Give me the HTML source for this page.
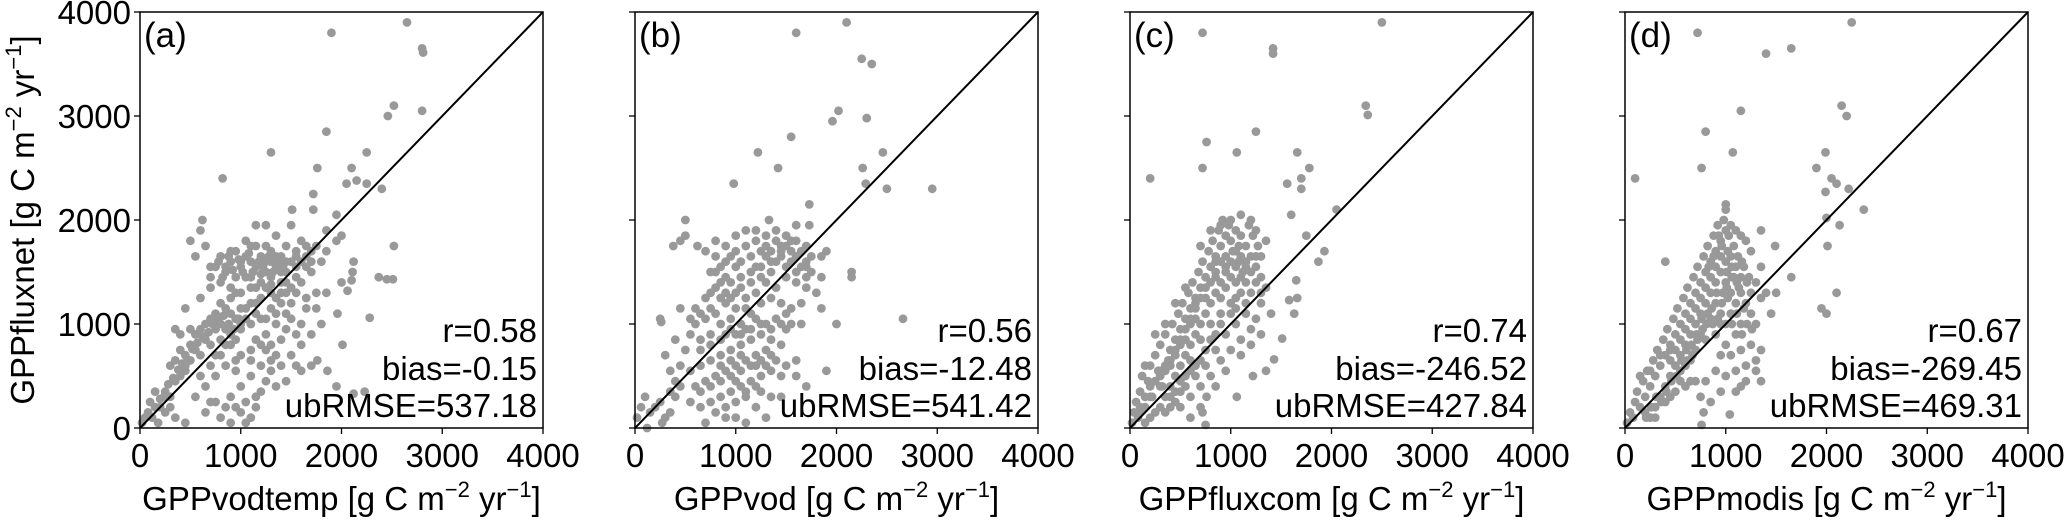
<!DOCTYPE html>
<html><head><meta charset="utf-8"><style>
html,body{margin:0;padding:0;background:#fff;}
svg{display:block;}
text{font-family:"Liberation Sans",sans-serif;fill:#000;}
</style></head><body>
<svg id="fig" width="2067" height="520" viewBox="0 0 2067 520" xmlns="http://www.w3.org/2000/svg"></svg>
<script>
const panelLetters = ["(a)","(b)","(c)","(d)"];
const xLabels = ["GPPvodtemp","GPPvod","GPPfluxcom","GPPmodis"];
const statR = ["0.58","0.56","0.74","0.67"];
const statBias = ["-0.15","-12.48","-246.52","-269.45"];
const statUb = ["537.18","541.42","427.84","469.31"];
const ticks = [0,1000,2000,3000,4000];
const ptsA = [[1900,3800],[2650,3900],[2800,3650],[2810,3610],[2800,3050],[2520,3100],[2460,3000],[1850,2850],[1300,2650],[2250,2650],[820,2400],[1760,2500],[2100,2500],[1720,2250],[2050,2350],[2150,2380],[2250,2350],[2400,2300],[1510,2100],[1720,2100],[1950,2050],[2520,1750],[2370,1450],[2450,1430],[2510,1430],[2120,1600],[2110,1500],[2100,1420],[2000,1400],[2060,1320],[1850,1300],[1960,1100],[2280,1060],[2010,800],[1760,650],[1860,550],[1950,400],[2230,350],[2120,330],
[20,50],[50,100],[80,150],[100,250],[150,200],[120,100],[200,280],[250,350],[180,50],[300,300],[350,450],[400,500],[450,550],[300,600],[350,650],[400,750],[450,700],[500,800],[550,900],[600,950],[650,1000],[700,1050],[750,1100],[800,1000],[850,950],[900,1100],[500,650],[600,700],[700,800],[800,850],[900,900],[1000,950],[550,1650],[620,2000],[600,1900],[500,1800],[650,1750],[800,1650],[900,1600],[1000,1550],[1100,1600],[1200,1650],[1300,1700],[1400,1650],[1500,1600],[1450,1750],[1350,1850],[1250,1950],[1150,1950],[1500,1950],[1600,1800],[1700,1700],[1650,1550],[1550,1450],[1400,1400],[1300,1300],[1200,1250],[1100,1200],[1000,1300],[900,1350],[800,1400],[700,1450],[750,1550],[850,1500],[950,1700],[1050,1800],[1150,1750],[1250,1500],[1350,1550],[1450,1500],[1550,1300],[1650,1250],[1750,1150],[1800,1000],[1700,900],[1600,800],[1500,700],[1400,600],[1300,550],[1200,600],[1100,650],[1000,700],[1100,500],[1000,400],[900,300],[850,200],[800,100],[900,50],[1000,150],[1050,250],[1150,300],[1200,350],[1100,100],[1050,50],[750,250],[650,150],[550,300],[450,50],[350,100],[1400,850],[1450,950],[1500,1050],[1350,1000],[1250,900],[1150,850],[1200,1050],[1300,1150],[1400,1200],[1500,1350],[1600,1400],[1700,1500],[1800,1600],[1850,1700],[1950,1800],[2000,1850],[1850,1900],[1750,1750],[1650,1650],[1550,1550],[1100,1450],[1000,1150],[900,800],[800,700],[700,600],[600,500],[650,400],[750,500],[850,600],[950,550],[1250,750],[1300,800],[1350,700],[1450,450],[1550,600],[1600,550],[1700,600],[400,900],[350,950],[500,950],[450,1150],[700,1350],[600,1250],[800,1200],[1000,1000],[1100,1000],
[850,1550],[950,1450],[1050,1650],[1150,1550],[1250,1600],[1350,1650],[1450,1600],[1250,1750],[1100,1750],[900,1250],[850,1150],[950,1050],[750,950],[650,850],[550,750],[450,600],[1200,1400],[1300,1450],[1400,1500],[1550,1700],[1300,1600],[1000,1600],[900,1700],[1050,1450],[1150,1350],[950,1300],[1250,1350],[1350,1250],[1450,1300],[1150,1100],[1050,1050],[950,850],[850,800],[750,700],[1200,800],[1100,750],[1300,650],[1350,400],[1250,450],[950,650],[250,150],[150,350],[300,200],[1600,1000],[1650,1150],[1550,900],[1450,1100],[1750,1300],[700,250],[950,200],[1150,200],
[700,1550],[780,1600],[880,1650],[980,1620],[1080,1680],[1180,1600],[1280,1650],[1380,1600],[1420,1550],[1320,1500],[1220,1550],[1120,1500],[1020,1500],[920,1520],[820,1450],[720,1000],[780,1050],[830,1080],[880,1000],[930,950],[980,1050],[680,920],[620,880],[570,820],[520,760],[470,650],[420,620],[380,560],[330,480],[280,420],[240,300],[200,200],[1100,1350],[1200,1480],[1300,1380],[1400,1300],[1500,1200],[1600,1600],[1700,1600],[1550,1650],[1650,1750],[1050,1150],[1150,1200],[1250,1050],[1350,1100],[1450,1400]];
const ptsB = [[2100,3900],[1600,3800],[2250,3550],[2350,3500],[2020,3050],[1960,2950],[2300,2980],[1550,2800],[1220,2650],[2460,2650],[1420,2500],[2260,2500],[980,2350],[2290,2350],[2500,2300],[2950,2300],[1730,2150],[1330,2000],[1730,1950],[500,2000],[2150,1500],[2150,1450],[2660,1050],[1850,1150],[2000,1000],[1900,550],
[20,100],[60,200],[100,300],[150,150],[120,0],[250,250],[300,100],[350,350],[270,50],[400,450],[450,600],[300,700],[250,1050],[260,1020],[400,850],[500,750],[550,900],[600,1000],[450,1150],[380,1750],[450,1800],[500,1850],[620,1750],[700,1700],[800,1650],[900,1600],[1000,1700],[1100,1750],[1200,1800],[1300,1750],[1400,1800],[1500,1750],[1600,1800],[1700,1750],[1500,1850],[1400,1900],[1600,1950],[1200,1900],[1100,1900],[1000,1550],[900,1450],[800,1350],[700,1250],[600,1150],[750,1500],[850,1550],[950,1400],[1050,1450],[1150,1500],[1250,1550],[1350,1600],[1450,1650],[1550,1600],[1650,1550],[1750,1500],[1850,1450],[1800,1300],[1700,1350],[1600,1400],[1500,1450],[1400,1350],[1300,1400],[1200,1300],[1100,1250],[1000,1300],[900,1200],[800,1100],[700,1050],[650,850],[750,900],[850,1000],[950,1050],[1050,1000],[1150,1100],[1250,1200],[1350,1250],[1450,1200],[1550,1150],[1650,1200],[1200,1050],[1300,1000],[1400,1050],[1500,950],[1450,800],[1350,850],[1250,900],[1150,850],[1050,800],[950,750],[850,700],[750,650],[650,600],[550,550],[600,400],[700,450],[800,500],[900,550],[1000,600],[1100,650],[1200,700],[1300,750],[1400,650],[1500,600],[1600,650],[1450,500],[1350,550],[1250,500],[1150,450],[1050,400],[950,350],[850,300],[750,250],[650,200],[700,50],[800,150],[900,200],[1000,250],[1100,300],[1200,200],[1300,100],[1100,50],[1000,100],[900,100],[1250,350],[1350,300],[1600,500],[1700,400],[1450,300],
[800,1800],[900,1750],[1000,1850],[1300,1850],[1450,1700],[1550,1700],[1650,1700],[1750,1650],[1850,1650],[1700,1600],[1900,1700],[1600,1500],[1700,1450],[1150,1650],[1250,1700],[1050,1600],[950,1650],[850,1250],[750,1150],[650,1100],[550,1050],[1100,1150],[1000,1150],[900,900],[1000,900],[1100,950],[1200,600],[1300,600],[1050,700],[950,500],[850,450],[750,400],[650,350],[550,250],[350,550],[450,400],[1450,1000],[1550,1000],[1500,1100],[1650,1000],
[1350,1700],[1450,1750],[1550,1800],[1400,1600],[1300,1650],[1350,1500],[1250,1450],[1150,1400],[1050,1350],[950,1250],[850,1400],[750,1300],[800,1500],[900,1300],[1200,1550],[1500,1550],[1600,1650],[1700,1550],[1250,1000],[1350,950],[1150,950],[1050,900],[950,950],[850,850],[750,800],[650,750],[1000,450],[1100,350],[1200,400],[850,600],[950,650],[1050,550],[1150,600],[1250,650],[1350,700],[200,200],[350,150],[400,300]];
const ptsC = [[2500,3900],[720,3800],[1420,3650],[1420,3600],[2340,3100],[2360,3010],[1250,2850],[760,2750],[1060,2650],[1660,2650],[720,2500],[1780,2500],[200,2400],[1560,2350],[1700,2300],[1700,2400],[2050,2100],[1600,2050],[1750,1850],[1930,1700],[1870,1600],[1650,1420],[1660,1250],[1580,1230],[1630,1100],[1510,860],[1430,660],[1350,550],[1220,500],[1060,300],[760,300],[720,150],[750,30],
[20,50],[40,150],[60,250],[80,100],[100,350],[120,500],[150,200],[180,450],[200,600],[220,300],[250,700],[280,550],[300,800],[320,400],[350,900],[380,650],[400,750],[420,1000],[450,850],[480,1100],[500,950],[520,1200],[550,1050],[580,1300],[600,1150],[620,1400],[650,1250],[680,1500],[700,1350],[720,1600],[750,1450],[780,1700],[800,1550],[820,1800],[850,1650],[880,1900],[900,1750],[920,2000],[950,1850],[980,1950],[1000,1800],[1020,1700],[1050,1900],[1080,1600],[1100,1850],[1120,1500],[1150,1750],[1180,1950],[1200,1650],[1220,1850],[1250,1550],[1270,1750],[1300,1450],[1000,1600],[950,1500],[900,1400],[850,1300],[800,1200],[750,1100],[700,1000],[650,900],[600,800],[550,700],[500,600],[450,500],[400,400],[350,300],[300,200],[250,150],[200,100],[350,550],[450,700],[550,850],[650,1050],[750,1250],[850,1450],[950,1650],[1050,1400],[1100,1300],[1150,1200],[1000,1200],[900,1100],[800,1000],[700,850],[600,650],[500,450],[400,300],[300,400],[200,300],[150,600],[250,900],[350,1000],[450,1200],[550,1350],[1200,1300],[1150,1100],[1050,1000],[950,900],[850,750],[750,600],[650,500],[550,400],[450,250],[350,150],[1300,1200],[1250,1050],[1200,950],[1100,850],[1000,750],[900,650],[800,500],[700,400],[600,300],[500,200],[1350,1350],[1400,1100],[1300,900],[1200,800],[1100,700],[950,550],[850,400],[700,200],[600,100],[1250,1900],[1200,2000],[1100,2050],[1300,1650],[1350,1800],[900,1950],[800,1900],[700,1750],[1000,2000],[850,1600],[1080,1750],[1150,1600],[1000,1450],[950,1350],[900,1250],[1050,1250],[1150,1400],[1250,1400],[1300,1300],[650,1200],[600,1000],[500,800],[400,600],[300,500],[100,150],[150,50],
[1050,1700],[1100,1650],[1150,1550],[1200,1500],[1250,1650],[1100,1450],[1050,1550],[950,1550],[900,1600],[850,1500],[800,1400],[750,1350],[700,1250],[650,1150],[600,1050],[550,950],[500,850],[450,750],[400,650],[350,600],[300,550],[250,450],[200,400],[150,300],[100,200],[1000,1100],[1050,1150],[900,1000],[850,900],[800,850],[750,750],[700,650],[650,600],[600,550],[550,500],[500,350],[450,350],[400,200]];
const ptsD = [[2250,3900],[720,3800],[1400,3600],[1650,3650],[2150,3100],[2200,3000],[1150,3050],[800,2850],[1070,2650],[1990,2650],[760,2500],[1900,2500],[100,2400],[2100,2350],[1990,2270],[2220,2300],[2050,2400],[2370,2100],[1000,2150],[1000,2100],[2000,2020],[2130,1950],[2010,1750],[1490,1750],[1350,1900],[1650,1450],[2100,1300],[1950,1150],[2000,1100],[400,1600],[1350,450],[1150,400],[780,150],[760,30],[1040,130],
[20,50],[50,150],[80,100],[100,250],[120,350],[150,200],[180,450],[200,300],[220,550],[250,400],[280,650],[300,500],[320,750],[350,600],[380,850],[400,700],[420,950],[450,800],[480,1050],[500,900],[520,1150],[550,1000],[580,1250],[600,1100],[620,1350],[650,1200],[680,1450],[700,1300],[720,1550],[750,1400],[780,1650],[800,1500],[820,1750],[850,1600],[880,1850],[900,1700],[920,1950],[950,1800],[980,2000],[1000,1900],[1030,1850],[1050,1950],[1080,1750],[1100,1900],[1120,1650],[1150,1850],[1180,1550],[1200,1800],[1230,1450],[1250,1700],[1000,1600],[950,1500],[900,1400],[850,1300],[800,1200],[750,1100],[700,1000],[650,900],[600,800],[550,700],[500,600],[450,500],[400,400],[350,300],[300,200],[250,100],[1000,1400],[1050,1300],[1100,1200],[1050,1100],[1000,1000],[950,1100],[900,1200],[1150,1300],[1200,1200],[1250,1100],[1300,1000],[1150,1000],[1100,900],[1000,800],[900,900],[800,850],[700,750],[600,600],[950,700],[1050,700],[1150,750],[1250,800],[1300,650],[1200,600],[1100,550],[1000,500],[900,550],[800,450],[700,450],[600,400],[500,350],[400,250],[300,100],[200,150],[1250,1300],[1300,1400],[1350,1250],[1150,1450],[1100,1550],[1050,1650],[950,1650],[900,1550],[850,1450],[800,1350],[750,1250],[700,1150],[650,1050],[600,950],[550,850],[500,750],[450,650],[880,1650],[830,1550],[930,1850],[1020,1700],[1080,1450],[1130,1350],[1180,1150],[1020,1250],[970,1300],[920,1050],[870,1000],[820,1100],[770,950],[720,850],[670,700],[620,650],[150,500],[250,550],[350,700],[450,750],[550,550],[650,450],[750,300],[850,250],[950,350],[1100,350],[1200,450],[1300,550],[1350,750],[1450,1100],[1500,1300],[1400,1300],[1350,1550],
[960,1750],[1010,1500],[1060,1450],[1110,1400],[1160,1600],[1210,1400],[1060,1550],[1010,1350],[960,1200],[910,1300],[860,1150],[810,1000],[760,1050],[710,900],[660,800],[610,750],[560,650],[510,500],[460,450],[410,350],[360,250],[310,300],[260,200],[210,100],[1060,1000],[1110,1100],[1160,900],[1210,1000],[1260,950],[950,1000],[850,1050],[750,900],[650,650],[550,450],[450,300]];
const allPts = [ptsA, ptsB, ptsC, ptsD];

const NS = "http://www.w3.org/2000/svg";
const svg = document.getElementById("fig");
const lefts = [140, 635, 1130, 1625];
const W = 403, TOP = 12, H = 416;
function mk(tag, attrs, parent){ const e=document.createElementNS(NS,tag); for(const k in attrs) e.setAttribute(k, attrs[k]); (parent||svg).appendChild(e); return e; }
const supLabel = n => n + ' [g C m<tspan dy="-13" font-size="22">\u22122</tspan><tspan dy="13"> yr</tspan><tspan dy="-13" font-size="22">\u22121</tspan><tspan dy="13">]</tspan>';

for (let p=0;p<4;p++){
  const L = lefts[p];
  const sx = v => L + v/4000*W;
  const sy = v => TOP + H - v/4000*H;
  const g = mk("g", {});
  
  
  const pg = mk("g", {}, g);
  
  
  for (const pt of allPts[p]) {
    const c = mk("circle", {cx:sx(pt[0]), cy:sy(pt[1]), r:4.4, fill:"#999999"}, pg);
    
    
  }
  const ln = mk("line", {x1:sx(0), y1:sy(0), x2:sx(4000), y2:sy(4000), stroke:"#000", "stroke-width":2}, g);
  
  
  const fr = mk("rect", {x:L, y:TOP, width:W, height:H, fill:"none", stroke:"#000", "stroke-width":1.5}, g);
  
  
  for (const t of ticks){
    mk("line", {x1:sx(t), y1:TOP+H, x2:sx(t), y2:TOP+H+6, stroke:"#000", "stroke-width":1.3}, g);
    mk("line", {x1:L, y1:sy(t), x2:L-6, y2:sy(t), stroke:"#000", "stroke-width":1.3}, g);
    const tl = mk("text", {x:sx(t), y:467, "font-size":33, "text-anchor":"middle"}, g);
    tl.textContent = t;
    
    
    if (p===0){
      const yl = mk("text", {x:L-9, y:sy(t)+12, "font-size":33, "text-anchor":"end"}, g);
      yl.textContent = t;
      
      
    }
  }
  const pl = mk("text", {x:L+4, y:47, "font-size":35}, g);
  pl.textContent = panelLetters[p];
  
  
  const lines = ["r="+statR[p], "bias="+statBias[p], "ubRMSE="+statUb[p]];
  const ys = [342, 380, 417];
  for (let i=0;i<3;i++){
    const st = mk("text", {x:L+W-6, y:ys[i], "font-size":33, "text-anchor":"end"}, g);
    st.textContent = lines[i];
    
    
  }
  const xl = mk("text", {x:L+W/2, y:510, "font-size":33, "text-anchor":"middle"}, g);
  xl.innerHTML = supLabel(xLabels[p]);
  
  
}
const yt = mk("text", {x:0, y:0, "font-size":33, "text-anchor":"middle", transform:"translate(34,220) rotate(-90)"});
yt.innerHTML = supLabel('GPPfluxnet');


</script>
</body></html>
